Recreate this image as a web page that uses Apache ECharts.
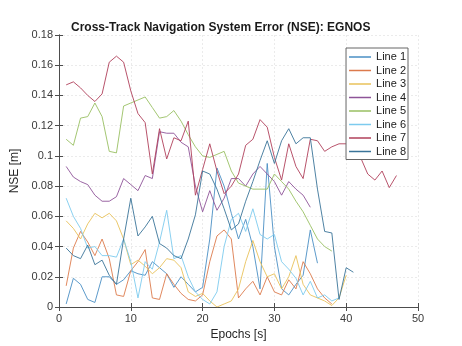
<!DOCTYPE html>
<html><head><meta charset="utf-8">
<script src="https://cdn.jsdelivr.net/npm/echarts@6/dist/echarts.min.js"></script>
<style>html,body{margin:0;padding:0;background:#fff;}#c{width:462px;height:346px;}</style>
</head><body><div id="c"></div>
<script>
const seriesNames = ['Line 1','Line 2','Line 3','Line 4','Line 5','Line 6','Line 7','Line 8'];
const line1 = [0.002,0.019,0.015,0.005,0.003,0.020,0.020,0.015,0.018,0.024,0.022,0.021,0.030,0.026,0.022,0.013,0.020,0.015,0.010,0.013,0.045,0.092,0.080,0.062,0.045,0.058,0.040,0.012,0.095,0.040,0.012,0.008,0.015,0.021,0.051,0.029];
const line2 = [0.014,0.039,0.050,0.043,0.034,0.045,0.032,0.008,0.007,0.024,0.030,0.038,0.006,0.005,0.022,0.015,0.009,0.005,0.004,0.008,0.030,0.047,0.051,0.045,0.006,0.012,0.017,0.008,0.020,0.010,0.008,0.018,0.012,0.030,0.022,0.012,0.006,0.002];
const line3 = [0.057,0.052,0.045,0.055,0.062,0.059,0.062,0.057,0.045,0.028,0.031,0.027,0.022,0.026,0.032,0.031,0.026,0.010,0.007,0.009,0.004,0.000,0.002,0.004,0.012,0.030,0.044,0.030,0.020,0.022,0.012,0.020,0.034,0.015,0.008,0.006,0.004,0.001,0.006,0.021];
const line4 = [0.093,0.086,0.083,0.081,0.074,0.070,0.070,0.073,0.085,0.081,0.077,0.087,0.085,0.116,0.115,0.115,0.109,0.106,0.080,0.063,0.077,0.064,0.072,0.085,0.085,0.080,0.088,0.093,0.088,0.083,0.074,0.083,0.078,0.074,0.066];
const line5 = [0.111,0.107,0.125,0.126,0.135,0.126,0.103,0.102,0.133,0.135,0.137,0.139,0.132,0.125,0.126,0.130,0.123,0.114,0.106,0.100,0.099,0.101,0.103,0.090,0.082,0.080,0.078,0.078,0.078,0.088,0.083,0.078,0.070,0.063,0.054,0.045,0.040,0.037];
const line6 = [0.072,0.060,0.052,0.039,0.040,0.034,0.034,0.033,0.045,0.030,0.006,0.030,0.025,0.043,0.064,0.032,0.034,0.020,0.010,0.005,0.002,0.010,0.040,0.058,0.062,0.050,0.065,0.048,0.045,0.048,0.030,0.025,0.019,0.008,0.017,0.006,0.008,0.004,0.006];
const line7 = [0.147,0.149,0.145,0.140,0.136,0.141,0.162,0.166,0.162,0.143,0.128,0.122,0.088,0.118,0.098,0.112,0.110,0.123,0.074,0.091,0.108,0.090,0.075,0.080,0.088,0.107,0.111,0.124,0.119,0.099,0.084,0.108,0.093,0.085,0.111,0.110,0.103,0.106,0.108,0.108,0.105,0.099,0.088,0.084,0.090,0.079,0.087];
const line8 = [0.039,0.034,0.032,0.041,0.028,0.031,0.021,0.015,0.045,0.072,0.047,0.053,0.060,0.042,0.039,0.034,0.032,0.045,0.061,0.090,0.088,0.078,0.065,0.051,0.055,0.070,0.083,0.097,0.110,0.095,0.110,0.118,0.108,0.112,0.112,0.078,0.050,0.049,0.005,0.026,0.023];
const xTicks = [0,10,20,30,40,50];
const yTicks = [0,0.02,0.04,0.06,0.08,0.1,0.12,0.14,0.16,0.18];

const allLines = [line1,line2,line3,line4,line5,line6,line7,line8];
const colors = ['#4a8fc4','#dc7a4c','#e9c25a','#8e5498','#98bf62','#7dcbee','#b0405a','#3a7499'];

const chart = echarts.init(document.getElementById('c'));
const font = 'Liberation Sans, Arial, sans-serif';
const axisCommon = {
  axisLine:{show:true,lineStyle:{color:'#4d4d4d',width:1}},
  axisTick:{show:true,inside:true,length:4,lineStyle:{color:'#4d4d4d'}},
  axisLabel:{color:'#3a3a3a',fontSize:11,fontFamily:font},
  splitLine:{show:false}
};
chart.setOption({
  animation:false,
  backgroundColor:'#fff',
  title:{text:'Cross-Track Navigation System Error (NSE): EGNOS',left:66,top:17,
    textStyle:{fontSize:12,fontWeight:'bold',color:'#1a1a1a',fontFamily:font}},
  grid:{left:59,right:44,top:35,bottom:37,containLabel:false},
  legend:{orient:'vertical',right:54,top:48,itemWidth:22,itemHeight:1.5,itemGap:1.5,icon:'rect',
    backgroundColor:'#fff',borderColor:'#666',borderWidth:1,padding:[3,2,2,3],
    textStyle:{fontSize:11,color:'#1a1a1a',fontFamily:font,lineHeight:12},
    data:seriesNames},
  xAxis:[Object.assign({},axisCommon,{type:'value',min:0,max:50,interval:10,
      name:'Epochs [s]',nameLocation:'middle',nameGap:22,
      nameTextStyle:{fontSize:12,color:'#262626',fontFamily:font},
      axisLabel:Object.assign({},axisCommon.axisLabel,{margin:6}),
      splitLine:{show:true,lineStyle:{color:'#ebebeb',width:1,type:[2,2]}}}),
    {type:'value',position:'top',min:0,max:50,interval:10,axisLine:{show:true,lineStyle:{color:'#4d4d4d'}},
      axisTick:{show:true,inside:true,length:4,lineStyle:{color:'#4d4d4d'}},axisLabel:{show:false},splitLine:{show:false}}],
  yAxis:[Object.assign({},axisCommon,{type:'value',min:0,max:0.18,interval:0.02,
      name:'NSE [m]',nameLocation:'middle',nameGap:29,
      nameTextStyle:{fontSize:12,color:'#262626',fontFamily:font},
      axisLabel:Object.assign({},axisCommon.axisLabel,{margin:6,formatter:v=>v===0?'0':(Math.round(v*100)/100).toFixed(2).replace(/^0\.10$/,'0.1')}),
      splitLine:{show:true,lineStyle:{color:'#ebebeb',width:1,type:[2,2]}}}),
    {type:'value',position:'right',min:0,max:0.18,interval:0.02,axisLine:{show:true,lineStyle:{color:'#4d4d4d'}},
      axisTick:{show:true,inside:true,length:4,lineStyle:{color:'#4d4d4d'}},axisLabel:{show:false},splitLine:{show:false}}],
  series: allLines.map((arr,k)=>({
    name:seriesNames[k],type:'line',symbol:'none',
    data:arr.map((v,i)=>[i+1,v]),
    lineStyle:{color:colors[k],width:0.9},itemStyle:{color:colors[k]}
  }))
});
</script></body></html>
